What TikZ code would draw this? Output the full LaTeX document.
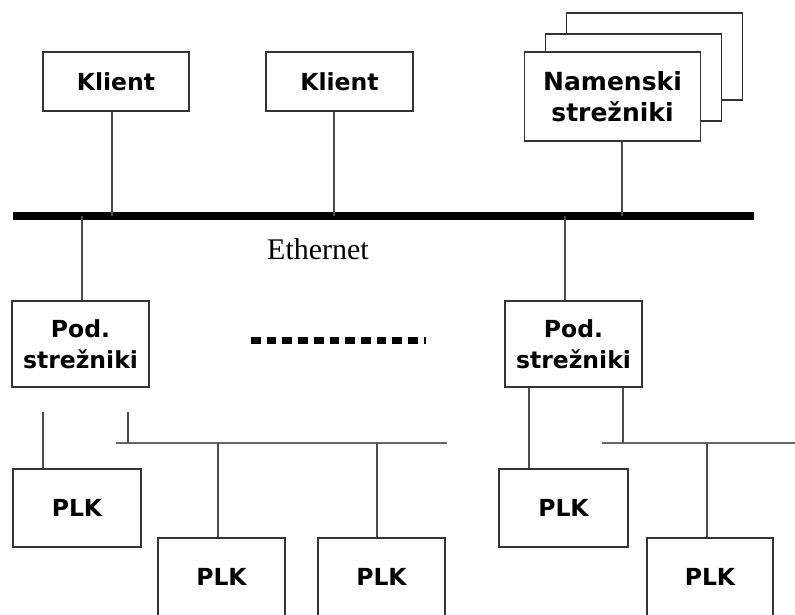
\documentclass[tikz,border=0pt]{standalone}
\usepackage{fontspec}
\newfontfamily\boxfont{DejaVu Sans}
\newfontfamily\labelfont{Liberation Serif}
\begin{document}
\begin{tikzpicture}[x=1pt,y=-1pt,
  unit/.style={draw=black!80, line width=1.8pt, fill=white, inner sep=0pt,
    align=center, font=\boxfont\bfseries\fontsize{23.5}{30.5}\selectfont},
  link/.style={draw=black!70, line width=1.6pt},
  subbus/.style={draw=black!60, line width=1.5pt},
  mainbus/.style={draw=black, line width=8pt},
  gapline/.style={draw=black, line width=7pt, dash pattern=on 9.7pt off 6pt}]
\useasboundingbox (0,0) rectangle (795,614);
\clip (0,0) rectangle (795,614);

% Ethernet backbone
\coordinate (busL) at (13,216);
\coordinate (busR) at (754,216);
\draw[mainbus] (busL) -- (busR);
\node[font=\labelfont\fontsize{30}{36}\selectfont, anchor=base] (eth) at (318,259) {Ethernet};

% clients
\node[unit, minimum width=146pt, minimum height=59pt] (k1) at (116,81.5) {Klient};
\node[unit, minimum width=147pt, minimum height=59pt] (k2) at (339.5,81.5) {Klient};

% stack of dedicated servers
\node[unit, minimum width=176pt, minimum height=87pt] (ns3) at (654.5,56.5) {};
\node[unit, minimum width=176pt, minimum height=87pt] (ns2) at (633.5,77.5) {};
\node[unit, minimum width=176pt, minimum height=89pt,
  font=\boxfont\bfseries\fontsize{25}{31}\selectfont] (ns1) at (612.5,96.5) {Namenski\\strežniki};

% sub-servers
\node[unit, minimum width=137pt, minimum height=86pt] (podL) at (80.5,344) {Pod.\\strežniki};
\node[unit, minimum width=137pt, minimum height=86pt] (podR) at (573.5,344) {Pod.\\strežniki};

% PLK units
\node[unit, minimum width=128pt, minimum height=78pt] (plk1) at (77,508) {PLK};
\node[unit, minimum width=127pt, minimum height=78pt] (plk2) at (221.5,577) {PLK};
\node[unit, minimum width=127pt, minimum height=78pt] (plk3) at (381.5,577) {PLK};
\node[unit, minimum width=129pt, minimum height=78pt] (plk4) at (563.5,508) {PLK};
\node[unit, minimum width=126pt, minimum height=78pt] (plk5) at (710,577) {PLK};

% links to the backbone
\draw[link] ([xshift=-4pt]k1.south) -- ([xshift=-4pt]k1.south |- busL);
\draw[link] ([xshift=-5.5pt]k2.south) -- ([xshift=-5.5pt]k2.south |- busL);
\draw[link] ([xshift=9.5pt]ns1.south) -- ([xshift=9.5pt]ns1.south |- busL);
\draw[link] ([xshift=1.5pt]podL.north |- busL) -- ([xshift=1.5pt]podL.north);
\draw[link] ([xshift=-8.5pt]podR.north |- busL) -- ([xshift=-8.5pt]podR.north);

% placeholder for further sub-servers
\coordinate (gapA) at (251,340);
\coordinate (gapB) at (426,340);
\draw[gapline] (gapA) -- (gapB);

% left field network
\coordinate (l1) at (43,412);
\coordinate (l2) at (128,412);
\coordinate (s1L) at (116,443);
\coordinate (s1R) at (447,443);
\draw[link] (l1) -- (l1 |- plk1.north);
\draw[subbus] (s1L) -- (s1R);
\draw[link] (l2) -- (l2 |- s1L);
\draw[link] ([xshift=-3.5pt]plk2.north |- s1L) -- ([xshift=-3.5pt]plk2.north);
\draw[link] ([xshift=-4.5pt]plk3.north |- s1L) -- ([xshift=-4.5pt]plk3.north);

% right field network
\coordinate (s2L) at (602,443);
\coordinate (s2R) at (795,443);
\draw[subbus] (s2L) -- (s2R);
\draw[link] ([xshift=-44.5pt]podR.south) -- ([xshift=-44.5pt]podR.south |- plk4.north);
\draw[link] ([xshift=49.5pt]podR.south) -- ([xshift=49.5pt]podR.south |- s2L);
\draw[link] ([xshift=-3pt]plk5.north |- s2L) -- ([xshift=-3pt]plk5.north);
\end{tikzpicture}
\end{document}
